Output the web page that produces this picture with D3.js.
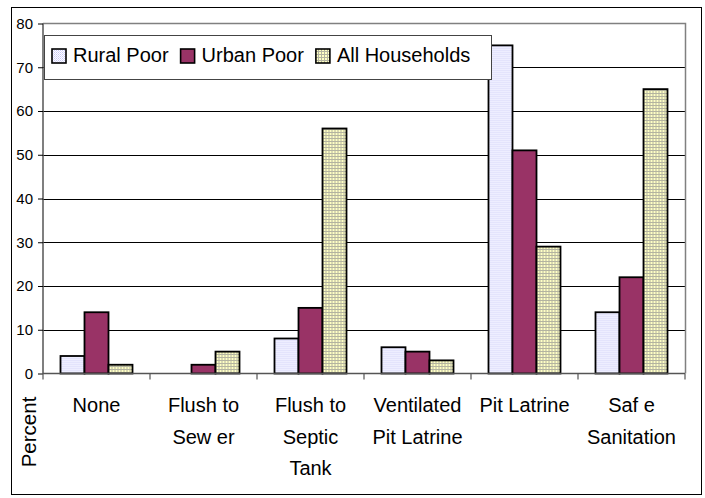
<!DOCTYPE html>
<html><head><meta charset="utf-8">
<script src="https://cdn.jsdelivr.net/npm/d3@7/dist/d3.min.js"></script>
<style>html,body{margin:0;padding:0;background:#fff;}svg{display:block;} svg text{font-family:"Liberation Sans",Arimo,Arial,sans-serif !important;}</style>
</head><body>
<svg id="chart" width="705" height="498"></svg>
<script>
const categories = [["None"], ["Flush to", "Sew er"], ["Flush to", "Septic", "Tank"], ["Ventilated", "Pit Latrine"], ["Pit Latrine"], ["Saf e", "Sanitation"]];
const seriesNames = ["Rural Poor", "Urban Poor", "All Households"];
const ruralPoor = [4, 0, 8, 6, 75, 14];
const urbanPoor = [14, 2, 15, 5, 51, 22];
const allHouseholds = [2, 5, 56, 3, 29, 65];
const yTicks = [0, 10, 20, 30, 40, 50, 60, 70, 80];
const seriesValues = [ruralPoor, urbanPoor, allHouseholds];

const svg = d3.select("#chart");
const defs = svg.append("defs");
// Rural pattern: light lavender dots
const p1 = defs.append("pattern").attr("id","pRural").attr("patternUnits","userSpaceOnUse").attr("width",2).attr("height",2);
p1.append("rect").attr("width",2).attr("height",2).attr("fill","#ffffff");
p1.append("rect").attr("x",0).attr("y",0).attr("width",1).attr("height",1).attr("fill","#c8c8f8");
p1.append("rect").attr("x",1).attr("y",1).attr("width",1).attr("height",1).attr("fill","#dcdcff");
// All households: yellow grid
const p3 = defs.append("pattern").attr("id","pAll").attr("patternUnits","userSpaceOnUse").attr("width",3).attr("height",3);
p3.append("rect").attr("width",3).attr("height",3).attr("fill","#ffffc4");
p3.append("rect").attr("x",0).attr("y",0).attr("width",1).attr("height",3).attr("fill","#b4b4a0");
p3.append("rect").attr("x",0).attr("y",0).attr("width",3).attr("height",1).attr("fill","#b4b4a0");
const fills = ["url(#pRural)", "#993366", "url(#pAll)"];

// outer frame
svg.append("rect").attr("x",11.5).attr("y",7.5).attr("width",690).attr("height",487).attr("fill","none").attr("stroke","#000").attr("stroke-width",1);

const pL = 43, pR = 685, pT = 23.5, pB = 373.5;
const x0 = d3.scaleBand().domain(d3.range(categories.length)).range([pL, pR]).paddingInner(0).paddingOuter(0);
const x1 = d3.scaleBand().domain(d3.range(seriesNames.length)).range([0, 72]);
const y = d3.scaleLinear().domain([0, 80]).range([pB, pT]);

// gridlines
svg.append("g").selectAll("line").data(yTicks.filter(t => t > 0 && t < 80)).join("line")
  .attr("x1", pL).attr("x2", pR)
  .attr("y1", d => Math.round(y(d)) + 0.5).attr("y2", d => Math.round(y(d)) + 0.5)
  .attr("stroke", "#000").attr("stroke-width", 1);
// plot border top & right
svg.append("path").attr("d", `M${pL},${pT}H${pR + 0.5}V${pB}`).attr("fill","none").attr("stroke","#808080").attr("stroke-width",1.5);

// bars
const groups = svg.append("g").selectAll("g").data(categories.map((c, i) => i)).join("g")
  .attr("transform", i => `translate(${x0(i) + (x0.bandwidth() - 72) / 2},0)`);
groups.selectAll("rect").data(i => seriesValues.map((s, j) => ({j, v: s[i]})).filter(d => d.v > 0)).join("rect")
  .attr("x", d => x1(d.j)).attr("width", x1.bandwidth())
  .attr("y", d => y(d.v)).attr("height", d => y(0) - y(d.v))
  .attr("fill", d => fills[d.j]).attr("stroke", "#000").attr("stroke-width", 1.8);

// y axis
const yAxis = d3.axisLeft(y).tickValues(yTicks).tickSize(5).tickPadding(5);
const ga = svg.append("g").attr("transform", `translate(${pL},0)`).call(yAxis);
ga.select(".domain").attr("stroke","#555").attr("stroke-width",1.5).attr("d", `M0,${pT}V${pB}`);
ga.selectAll(".tick line").attr("stroke","#000");
ga.selectAll(".tick text").attr("font-size", 15).attr("fill","#000");

// x axis
const gx = svg.append("g").attr("transform", `translate(0,${pB})`);
gx.append("line").attr("x1", pL).attr("x2", pR).attr("stroke", "#555").attr("stroke-width", 1.5);
gx.selectAll(".xt").data(d3.range(categories.length + 1)).join("line").attr("class","xt")
  .attr("x1", i => pL + i * x0.bandwidth()).attr("x2", i => pL + i * x0.bandwidth())
  .attr("y1", 0).attr("y2", 6).attr("stroke", "#555").attr("stroke-width", 1.2);

// category labels
const lbl = svg.append("g").selectAll("text").data(categories.map((c, i) => ({c, i}))).join("text")
  .attr("x", d => x0(d.i) + x0.bandwidth() / 2).attr("y", 412)
  .attr("text-anchor", "middle").attr("font-size", 20).attr("fill", "#000");
lbl.selectAll("tspan").data(d => d.c.map((t, k) => ({t, k, x: x0(d.i) + x0.bandwidth() / 2}))).join("tspan")
  .attr("x", d => d.x).attr("dy", d => d.k === 0 ? 0 : 31.5).text(d => d.t);

// y axis title
svg.append("text").attr("transform", "translate(36,432) rotate(-90)").attr("text-anchor","middle")
  .attr("font-size", 20.5).attr("fill","#000").text("Percent");

// legend
const lg = svg.append("g");
lg.append("rect").attr("x", 44.5).attr("y", 35.5).attr("width", 447).attr("height", 44).attr("fill","#fff").attr("stroke","#444").attr("stroke-width",1);
let lx = 52;
seriesNames.forEach((name, j) => {
  lg.append("rect").attr("x", lx).attr("y", 49).attr("width", 14).attr("height", 14).attr("fill", fills[j]).attr("stroke","#000").attr("stroke-width",1.6);
  const t = lg.append("text").attr("x", lx + 21).attr("y", 62).attr("font-size", 20).attr("fill","#000").text(name);
  lx += 21 + t.node().getComputedTextLength() + 12;
});
</script>
</body></html>
